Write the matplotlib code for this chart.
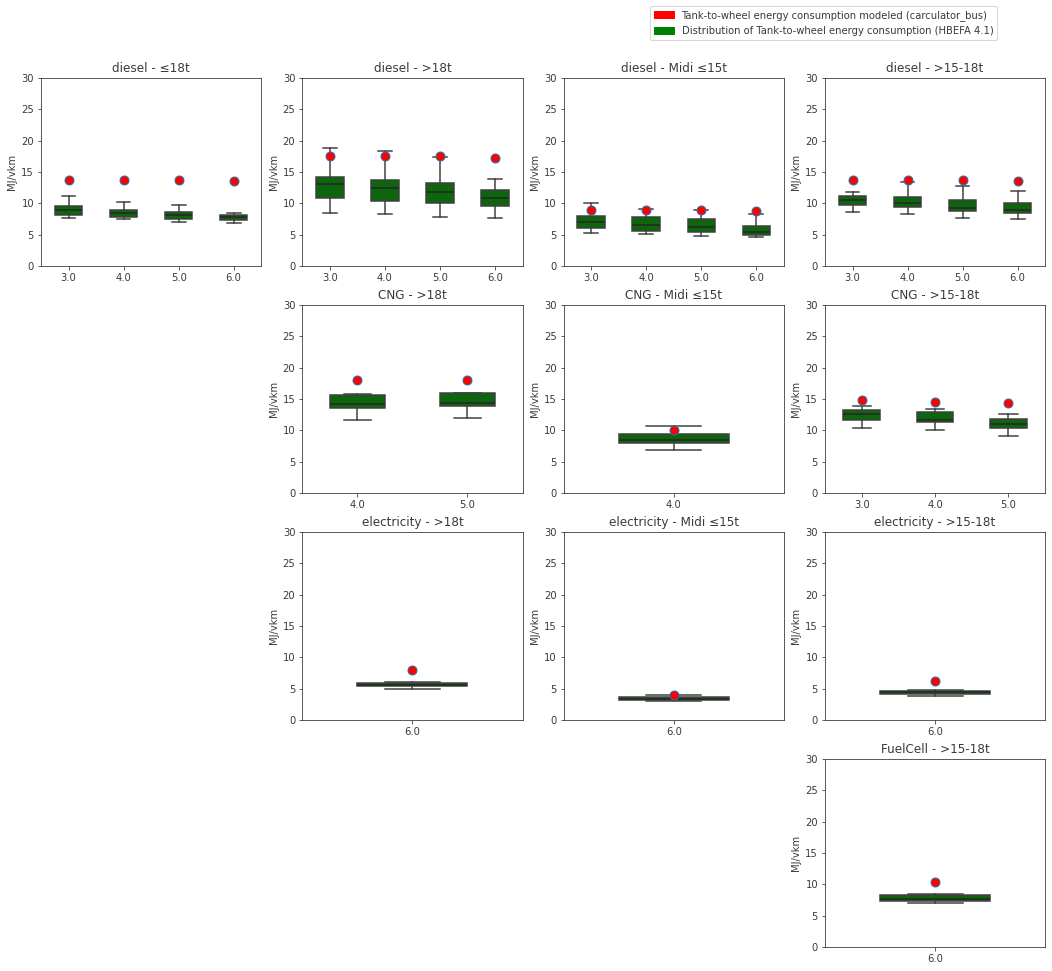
import matplotlib.pyplot as plt
from matplotlib.patches import Patch

# panel titles, grid slot (row, col) and euro classes on the x axis
titles = ["diesel - ≤18t", "diesel - >18t", "diesel - Midi ≤15t", "diesel - >15-18t",
          "CNG - >18t", "CNG - Midi ≤15t", "CNG - >15-18t",
          "electricity - >18t", "electricity - Midi ≤15t", "electricity - >15-18t",
          "FuelCell - >15-18t"]
slots = [(0, 0), (0, 1), (0, 2), (0, 3),
         (1, 1), (1, 2), (1, 3),
         (2, 1), (2, 2), (2, 3),
         (3, 3)]
years = [["3.0", "4.0", "5.0", "6.0"], ["3.0", "4.0", "5.0", "6.0"],
         ["3.0", "4.0", "5.0", "6.0"], ["3.0", "4.0", "5.0", "6.0"],
         ["4.0", "5.0"], ["4.0"], ["3.0", "4.0", "5.0"],
         ["6.0"], ["6.0"], ["6.0"],
         ["6.0"]]

# HBEFA distribution (MJ/vkm)
whislo = [[7.7, 7.5, 7.0, 6.9], [8.45, 8.3, 7.85, 7.65], [5.3, 5.1, 4.85, 4.6], [8.6, 8.3, 7.65, 7.5],
          [11.6, 12.0], [6.9], [10.4, 10.05, 9.15],
          [5.0], [3.0], [3.8],
          [7.0]]
q1 = [[8.2, 7.9, 7.5, 7.4], [10.8, 10.4, 10.1, 9.6], [6.0, 5.6, 5.4, 5.0], [9.75, 9.45, 8.7, 8.5],
      [13.6, 13.9], [8.0], [11.7, 11.35, 10.4],
      [5.45], [3.2], [4.2],
      [7.35]]
med = [[9.0, 8.4, 8.1, 7.8], [13.05, 12.5, 11.85, 10.9], [7.05, 6.6, 6.25, 5.5], [10.5, 10.0, 9.3, 9.0],
       [14.2, 14.4], [8.45], [12.6, 11.7, 11.0],
       [5.6], [3.4], [4.4],
       [7.6]]
q3 = [[9.5, 8.9, 8.6, 8.2], [14.2, 13.75, 13.3, 12.1], [8.0, 7.85, 7.5, 6.4], [11.2, 11.05, 10.5, 10.05],
      [15.6, 15.9], [9.4], [13.3, 12.9, 11.85],
      [5.85], [3.7], [4.6],
      [8.25]]
whishi = [[11.2, 10.25, 9.8, 8.5], [18.8, 18.4, 17.4, 13.9], [10.1, 9.1, 8.9, 8.3], [11.85, 13.4, 12.8, 12.0],
          [15.77, 15.9], [10.7], [13.9, 13.4, 12.65],
          [6.05], [3.95], [4.75],
          [8.5]]

# carculator_bus modeled values (MJ/vkm)
modeled = [[13.8, 13.8, 13.8, 13.5], [17.6, 17.6, 17.6, 17.3], [8.9, 8.9, 8.9, 8.7], [13.8, 13.8, 13.8, 13.5],
           [18.1, 18.1], [10.0], [14.8, 14.5, 14.3],
           [8.05], [3.95], [6.15],
           [10.45]]

plt.rcParams['font.size'] = 10
plt.rcParams['text.color'] = '#3a3a3a'
plt.rcParams['axes.labelcolor'] = '#3a3a3a'
plt.rcParams['xtick.color'] = '#3a3a3a'
plt.rcParams['ytick.color'] = '#3a3a3a'
plt.rcParams['axes.edgecolor'] = '#333333'

fig, axes = plt.subplots(4, 4, figsize=(1052 / 72, 971 / 72), dpi=72)
fig.subplots_adjust(left=0.039, right=0.9935, top=0.9197, bottom=0.0247,
                    wspace=0.187, hspace=0.207)

for ax in axes.flat:
    ax.set_visible(False)

box_green = '#0d660d'
line_grey = '#3f3f3f'

for i, (r, c) in enumerate(slots):
    ax = axes[r, c]
    ax.set_visible(True)
    stats = []
    for j in range(len(years[i])):
        stats.append({'whislo': whislo[i][j], 'q1': q1[i][j], 'med': med[i][j],
                      'q3': q3[i][j], 'whishi': whishi[i][j], 'fliers': []})
    pos = list(range(len(years[i])))
    ax.bxp(stats, positions=pos, widths=0.5, patch_artist=True, showfliers=False,
           boxprops=dict(facecolor=box_green, edgecolor=line_grey, linewidth=1.5),
           medianprops=dict(color='#262626', linewidth=1.5),
           whiskerprops=dict(color=line_grey, linewidth=1.5),
           capprops=dict(color=line_grey, linewidth=1.5))
    ax.plot(pos, modeled[i], 'o', color='red', markeredgecolor='#1f77b4',
            markersize=9, markeredgewidth=1.0, zorder=5)
    ax.set_xticks(pos)
    ax.set_xticklabels(years[i])
    ax.set_xlim(-0.5, len(years[i]) - 0.5)
    ax.set_ylim(0, 30)
    ax.set_yticks([0, 5, 10, 15, 20, 25, 30])
    ax.set_ylabel("MJ/vkm")
    ax.set_title(titles[i], fontsize=12)

handles = [Patch(color='red', label='Tank-to-wheel energy consumption modeled (carculator_bus)'),
           Patch(color='green', label='Distribution of Tank-to-wheel energy consumption (HBEFA 4.1)')]
fig.legend(handles=handles, loc='upper right', bbox_to_anchor=(0.948, 0.994),
           borderaxespad=0, fontsize=10)

fig.savefig("out.png", dpi=72)
